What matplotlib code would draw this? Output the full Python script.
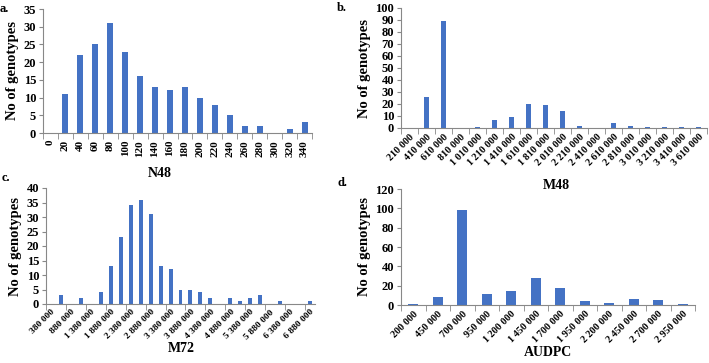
import matplotlib.pyplot as plt
import numpy as np

plt.rcParams['font.family'] = ['Liberation Serif', 'DejaVu Serif']
plt.rcParams['font.weight'] = 'bold'

# panel a: N48
n48_bins = ['0', '20', '40', '60', '80', '100', '120', '140', '160', '180',
            '200', '220', '240', '260', '280', '300', '320', '340']
n48_counts = [0, 11, 22, 25, 31, 23, 16, 13, 12, 13, 10, 8, 5, 2, 2, 0, 1, 3]

# panel b: M48
m48_bins = ['210 000', '410 000', '610 000', '810 000', '1 010 000', '1 210 000',
            '1 410 000', '1 610 000', '1 810 000', '2 010 000', '2 210 000',
            '2 410 000', '2 610 000', '2 810 000', '3 010 000', '3 210 000',
            '3 410 000', '3 610 000']
m48_counts = [0, 26, 89, 0, 1, 7, 9, 20, 19, 14, 2, 0, 4, 2, 1, 1, 1, 1]

# panel c: M72 (every second bin is labelled)
m72_bins = ['380 000', '630 000', '880 000', '1 130 000', '1 380 000', '1 630 000',
            '1 880 000', '2 130 000', '2 380 000', '2 630 000', '2 880 000',
            '3 130 000', '3 380 000', '3 630 000', '3 880 000', '4 130 000',
            '4 380 000', '4 630 000', '4 880 000', '5 130 000', '5 380 000',
            '5 630 000', '5 880 000', '6 130 000', '6 380 000', '6 630 000',
            '6 880 000']
m72_counts = [0, 3, 0, 2, 0, 4, 13, 23, 34, 36, 31, 13, 12, 5, 5, 4, 2, 0,
              2, 1, 2, 3, 0, 1, 0, 0, 1]

# panel d: AUDPC
audpc_bins = ['200 000', '450 000', '700 000', '950 000', '1 200 000', '1 450 000',
              '1 700 000', '1 950 000', '2 200 000', '2 450 000', '2 700 000',
              '2 950 000']
audpc_counts = [1, 8, 98, 11, 15, 28, 18, 4, 2, 6, 5, 1]

W, H = 709, 363
fig = plt.figure(figsize=(W / 100, H / 100), dpi=100)
bar_color = '#4472C4'
axis_color = '#888888'


def make_ax(left, right, top, bottom):
    return fig.add_axes([left / W, 1 - bottom / H, (right - left) / W, (bottom - top) / H])


def draw(ax, labels, counts, ymax, ystep, rot, label_every=1, width=0.4, xfs=7.3):
    n = len(counts)
    x = np.arange(n)
    ax.bar(x, counts, width=width, color=bar_color, zorder=2)
    ax.set_xlim(-0.5, n - 0.5)
    ax.set_ylim(0, ymax)
    ax.set_yticks(np.arange(0, ymax + 1, ystep))
    for s in ['top', 'right']:
        ax.spines[s].set_visible(False)
    for s in ['left', 'bottom']:
        ax.spines[s].set_color(axis_color)
        ax.spines[s].set_linewidth(0.8)
    ax.tick_params(axis='y', labelsize=9, length=3, color=axis_color, pad=2)
    pos = x[::label_every]
    ax.set_xticks(pos)
    if rot == 90:
        ax.set_xticklabels([labels[i] for i in pos], rotation=90, fontsize=8)
        ax.tick_params(axis='x', which='major', length=0, pad=5)
    else:
        ax.set_xticklabels([labels[i] for i in pos], rotation=45, ha='right',
                           rotation_mode='anchor', fontsize=xfs)
        ax.tick_params(axis='x', which='major', length=0, pad=3)
    ax.set_xticks(np.arange(-0.5, n, label_every), minor=True)
    ax.tick_params(axis='x', which='minor', length=4, color=axis_color)
    ax.set_ylabel('No of genotypes', fontsize=10.5, fontweight='bold', labelpad=3)


ax_a = make_ax(43, 312, 9, 133)
draw(ax_a, n48_bins, n48_counts, 35, 5, 90)

ax_b = make_ax(401, 707, 8, 128)
draw(ax_b, m48_bins, m48_counts, 100, 10, 45, width=0.35)

ax_c = make_ax(46, 315, 188, 304)
draw(ax_c, m72_bins, m72_counts, 40, 5, 45, label_every=2, xfs=6.8)

ax_d = make_ax(401, 695, 189, 305)
draw(ax_d, audpc_bins, audpc_counts, 120, 20, 45)

fig.text(160 / W, 1 - 173 / H, 'N48', ha='center', va='center', fontsize=10, fontweight='bold')
fig.text(556 / W, 1 - 185 / H, 'M48', ha='center', va='center', fontsize=10, fontweight='bold')
fig.text(181 / W, 1 - 349 / H, 'M72', ha='center', va='center', fontsize=10, fontweight='bold')
fig.text(548 / W, 1 - 352 / H, 'AUDPC', ha='center', va='center', fontsize=10, fontweight='bold')

for lx, ly, lt in [(0, 9, 'a.'), (337, 8, 'b.'), (2, 178, 'c.'), (338, 183, 'd.')]:
    fig.text(lx / W, 1 - ly / H, lt, ha='left', va='center', fontsize=9, fontweight='bold')

fig.savefig('out.png', dpi=100)
